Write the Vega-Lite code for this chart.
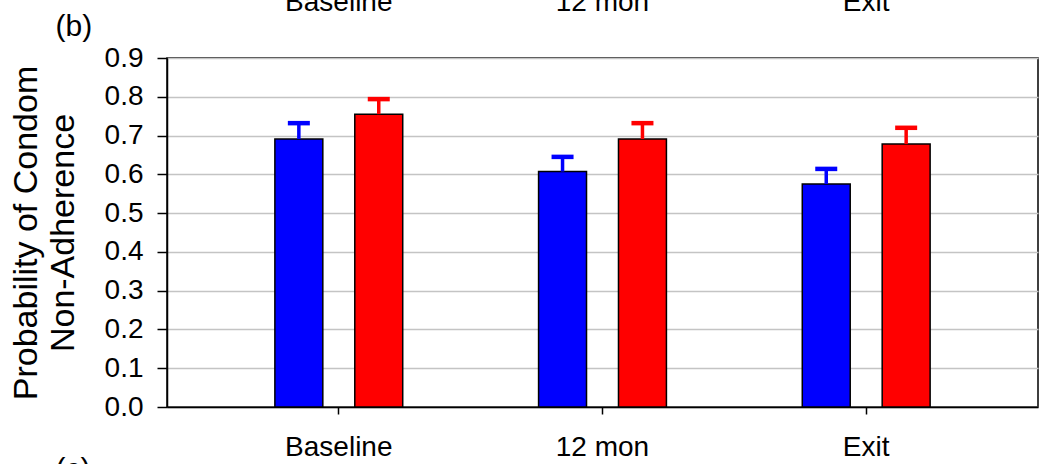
{
  "$schema": "https://vega.github.io/schema/vega-lite/v6.json",
  "autosize": {"type": "none"},
  "padding": {"left": 167, "top": 58, "right": 1, "bottom": 57},
  "width": 871,
  "height": 349,
  "background": "white",
  "data": {
    "values": [
      {"time": "Baseline", "group": "Group A", "value": 0.691, "upper": 0.732},
      {"time": "Baseline", "group": "Group B", "value": 0.755, "upper": 0.794},
      {"time": "12 mon", "group": "Group A", "value": 0.607, "upper": 0.645},
      {"time": "12 mon", "group": "Group B", "value": 0.691, "upper": 0.732},
      {"time": "Exit", "group": "Group A", "value": 0.575, "upper": 0.614},
      {"time": "Exit", "group": "Group B", "value": 0.678, "upper": 0.720}
    ]
  },
  "encoding": {
    "x": {
      "field": "time",
      "type": "nominal",
      "sort": ["Baseline", "12 mon", "Exit"],
      "scale": {"paddingInner": 0.4, "paddingOuter": 0.3515},
      "axis": null
    },
    "xOffset": {
      "field": "group",
      "type": "nominal",
      "scale": {"paddingInner": 0.4, "paddingOuter": 0.19}
    },
    "color": {
      "field": "group",
      "type": "nominal",
      "scale": {"domain": ["Group A", "Group B"], "range": ["#0000ff", "#ff0000"]},
      "legend": null
    }
  },
  "layer": [
    {
      "mark": {"type": "bar", "stroke": "black", "strokeWidth": 1.5, "opacity": 1},
      "encoding": {
        "x": {
          "field": "time",
          "type": "nominal",
          "sort": ["Baseline", "12 mon", "Exit"],
          "scale": {"paddingInner": 0.4, "paddingOuter": 0.3515},
          "axis": {
            "orient": "bottom",
            "title": "(c)",
            "titleX": -112,
            "titleY": 71,
            "titleAlign": "left",
            "titleAnchor": null,
            "titleBaseline": "alphabetic",
            "titleFontSize": 30,
            "titleFontWeight": "normal",
            "titleFont": "Liberation Sans",
            "titleColor": "black",
            "labelAngle": 0,
            "labelFontSize": 28,
            "labelFont": "Liberation Sans",
            "labelColor": "black",
            "labelPadding": 19,
            "tickSize": 7,
            "tickColor": "black",
            "tickWidth": 1.5,
            "domainColor": "black",
            "domainWidth": 1.5,
            "grid": false
          }
        },
        "y": {
          "field": "value",
          "type": "quantitative",
          "scale": {"domain": [0, 0.9], "nice": false},
          "axis": {
            "title": ["Probability of Condom", "Non-Adherence"],
            "titleFontSize": 34,
            "titleFont": "Liberation Sans",
            "titleFontWeight": "normal",
            "titleColor": "black",
            "titleLineHeight": 37,
            "titlePadding": 24,
            "values": [0, 0.1, 0.2, 0.3, 0.4, 0.5, 0.6, 0.7, 0.8, 0.9],
            "format": ".1f",
            "labelOverlap": false,
            "labelFontSize": 28,
            "labelFont": "Liberation Sans",
            "labelColor": "black",
            "labelPadding": 14,
            "tickSize": 10,
            "tickColor": "black",
            "tickWidth": 1.5,
            "domainColor": "black",
            "domainWidth": 1.5,
            "grid": true,
            "gridColor": "#c4c4c4",
            "gridWidth": 1.5
          }
        }
      }
    },
    {
      "mark": {"type": "rule", "strokeWidth": 3.5},
      "encoding": {
        "y": {
          "field": "value",
          "type": "quantitative",
          "scale": {"domain": [0, 0.9], "nice": false},
          "axis": {
            "title": ["Probability of Condom", "Non-Adherence"],
            "titleFontSize": 34,
            "titleFont": "Liberation Sans",
            "titleFontWeight": "normal",
            "titleColor": "black",
            "titleLineHeight": 37,
            "titlePadding": 24,
            "values": [0, 0.1, 0.2, 0.3, 0.4, 0.5, 0.6, 0.7, 0.8, 0.9],
            "format": ".1f",
            "labelOverlap": false,
            "labelFontSize": 28,
            "labelFont": "Liberation Sans",
            "labelColor": "black",
            "labelPadding": 14,
            "tickSize": 10,
            "tickColor": "black",
            "tickWidth": 1.5,
            "domainColor": "black",
            "domainWidth": 1.5,
            "grid": true,
            "gridColor": "#c4c4c4",
            "gridWidth": 1.5
          }
        },
        "y2": {"field": "upper"}
      }
    },
    {
      "mark": {"type": "tick", "size": 22, "thickness": 4.5, "opacity": 1},
      "encoding": {
        "x": {
          "field": "time",
          "type": "nominal",
          "sort": ["Baseline", "12 mon", "Exit"],
          "scale": {"paddingInner": 0.4, "paddingOuter": 0.3515},
          "axis": {
            "orient": "top",
            "title": "(b)",
            "titleX": -112,
            "titleY": -23,
            "titleAlign": "left",
            "titleAnchor": null,
            "titleBaseline": "alphabetic",
            "titleFontSize": 30,
            "titleFontWeight": "normal",
            "titleFont": "Liberation Sans",
            "titleColor": "black",
            "labelAngle": 0,
            "labelFontSize": 28,
            "labelFont": "Liberation Sans",
            "labelColor": "black",
            "labelPadding": 48,
            "labelBaseline": "alphabetic",
            "ticks": false,
            "domain": false,
            "grid": false
          }
        },
        "y": {
          "field": "upper",
          "type": "quantitative",
          "scale": {"domain": [0, 0.9], "nice": false},
          "axis": {
            "title": ["Probability of Condom", "Non-Adherence"],
            "titleFontSize": 34,
            "titleFont": "Liberation Sans",
            "titleFontWeight": "normal",
            "titleColor": "black",
            "titleLineHeight": 37,
            "titlePadding": 24,
            "values": [0, 0.1, 0.2, 0.3, 0.4, 0.5, 0.6, 0.7, 0.8, 0.9],
            "format": ".1f",
            "labelOverlap": false,
            "labelFontSize": 28,
            "labelFont": "Liberation Sans",
            "labelColor": "black",
            "labelPadding": 14,
            "tickSize": 10,
            "tickColor": "black",
            "tickWidth": 1.5,
            "domainColor": "black",
            "domainWidth": 1.5,
            "grid": true,
            "gridColor": "#c4c4c4",
            "gridWidth": 1.5
          }
        }
      }
    }
  ],
  "resolve": {"axis": {"x": "independent"}},
  "config": {
    "view": {"stroke": "black", "strokeWidth": 1.5},
    "font": "Liberation Sans"
  }
}
